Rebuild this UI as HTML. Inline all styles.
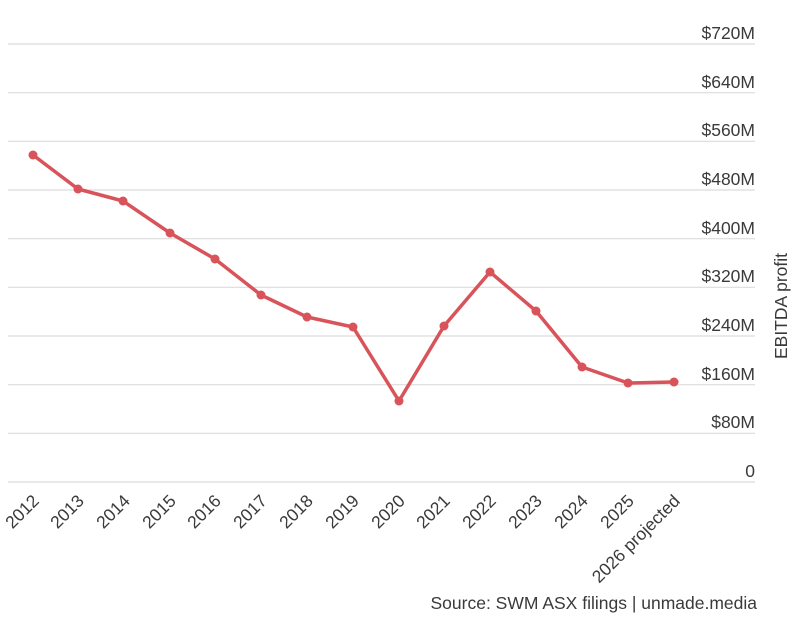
<!DOCTYPE html>
<html><head><style>
html,body{margin:0;padding:0;background:#fff;}
svg text{font-family:"Liberation Sans",sans-serif;fill:#3a3a3a;}
</style></head><body>
<svg width="799" height="622" viewBox="0 0 799 622" xmlns="http://www.w3.org/2000/svg">
<g stroke="#dcdcdc" stroke-width="1.2">
<line x1="8" x2="755" y1="44" y2="44"/>
<line x1="8" x2="755" y1="92.7" y2="92.7"/>
<line x1="8" x2="755" y1="141.3" y2="141.3"/>
<line x1="8" x2="755" y1="190" y2="190"/>
<line x1="8" x2="755" y1="238.7" y2="238.7"/>
<line x1="8" x2="755" y1="287.3" y2="287.3"/>
<line x1="8" x2="755" y1="336" y2="336"/>
<line x1="8" x2="755" y1="384.7" y2="384.7"/>
<line x1="8" x2="755" y1="433.3" y2="433.3"/>
<line x1="8" x2="755" y1="482" y2="482"/>
</g>
<g font-size="17.5" text-anchor="end">
<text x="755" y="39">$720M</text>
<text x="755" y="88">$640M</text>
<text x="755" y="136">$560M</text>
<text x="755" y="185">$480M</text>
<text x="755" y="234">$400M</text>
<text x="755" y="282">$320M</text>
<text x="755" y="331">$240M</text>
<text x="755" y="380">$160M</text>
<text x="755" y="428">$80M</text>
<text x="755" y="477">0</text>
</g>
<text font-size="17.5" transform="translate(787,306) rotate(-90)" text-anchor="middle">EBITDA profit</text>
<polyline fill="none" stroke="#d9535a" stroke-width="3.5" stroke-linejoin="round" points="33,155 78,189 123,201 170,233 215,259 261,295 307,317 353,327 399,401 444,326 490,272 536,311 582,367 628,383 674,382"/>
<g fill="#d9535a">
<circle cx="33" cy="155" r="4.5"/><circle cx="78" cy="189" r="4.5"/><circle cx="123" cy="201" r="4.5"/><circle cx="170" cy="233" r="4.5"/><circle cx="215" cy="259" r="4.5"/><circle cx="261" cy="295" r="4.5"/><circle cx="307" cy="317" r="4.5"/><circle cx="353" cy="327" r="4.5"/><circle cx="399" cy="401" r="4.5"/><circle cx="444" cy="326" r="4.5"/><circle cx="490" cy="272" r="4.5"/><circle cx="536" cy="311" r="4.5"/><circle cx="582" cy="367" r="4.5"/><circle cx="628" cy="383" r="4.5"/><circle cx="674" cy="382" r="4.5"/>
</g>
<g font-size="17.5" text-anchor="end">
<text transform="translate(40,502) rotate(-45)">2012</text>
<text transform="translate(85,502) rotate(-45)">2013</text>
<text transform="translate(131,502) rotate(-45)">2014</text>
<text transform="translate(177,502) rotate(-45)">2015</text>
<text transform="translate(222,502) rotate(-45)">2016</text>
<text transform="translate(268,502) rotate(-45)">2017</text>
<text transform="translate(314,502) rotate(-45)">2018</text>
<text transform="translate(360,502) rotate(-45)">2019</text>
<text transform="translate(406,502) rotate(-45)">2020</text>
<text transform="translate(451,502) rotate(-45)">2021</text>
<text transform="translate(497,502) rotate(-45)">2022</text>
<text transform="translate(543,502) rotate(-45)">2023</text>
<text transform="translate(589,502) rotate(-45)">2024</text>
<text transform="translate(635,502) rotate(-45)">2025</text>
<text transform="translate(681,502) rotate(-45)">2026 projected</text>
</g>
<text font-size="17.5" x="757" y="609" text-anchor="end">Source: SWM ASX filings | unmade.media</text>
</svg>
</body></html>
